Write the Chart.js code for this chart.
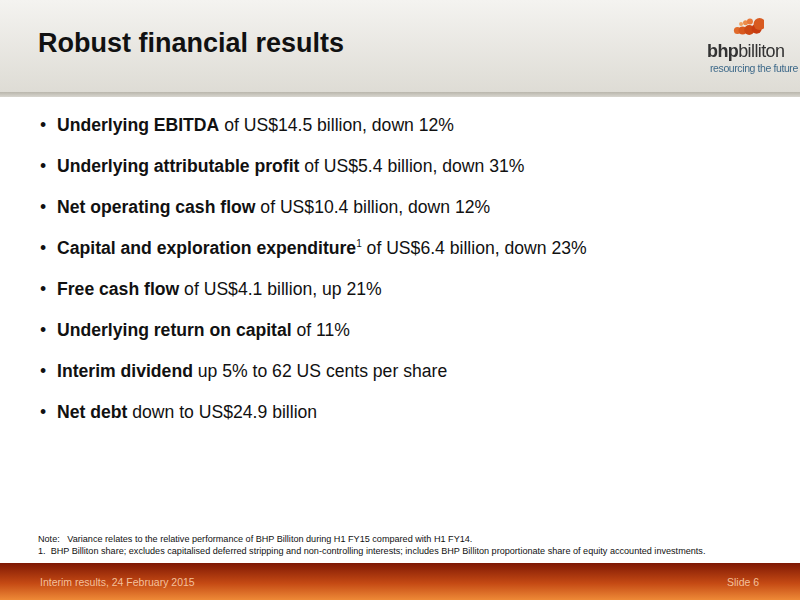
<!DOCTYPE html>
<html><head><meta charset="utf-8">
<script src="https://cdn.jsdelivr.net/npm/chart.js@4"></script>
<style>
body{margin:0;width:800px;height:600px;position:relative;overflow:hidden;background:#fff;font-family:"Liberation Sans",Arial,sans-serif}
#hdr{position:absolute;left:0;top:0;width:800px;height:92px;background:linear-gradient(#f4f3f0,#dedcd5)}
#hdrline{position:absolute;left:0;top:92px;width:800px;height:5px;background:linear-gradient(#b9b6ac,#d8d6cf)}
#title{position:absolute;left:38px;top:28px;font-size:27px;font-weight:bold;color:#111}
#logo{position:absolute;left:707px;top:41px;font-size:18px;color:#333;letter-spacing:-0.6px;white-space:nowrap}
#tag{position:absolute;left:710px;top:62px;font-size:10.5px;color:#3f6a8a;letter-spacing:-0.4px;white-space:nowrap}
#ul{position:absolute;left:40px;top:115px;margin:0;padding:0;list-style:none}
#ul li{height:41px;font-size:17.6px;color:#111;white-space:nowrap}
#ul li:before{content:"•";display:inline-block;width:17px}
#notes{position:absolute;left:38px;top:533px;font-size:9.1px;color:#111;line-height:12px;white-space:nowrap}
#foot{position:absolute;left:0;top:563px;width:800px;height:37px;background:linear-gradient(#7e1804,#c54a14 55%,#ee8a37)}
.ft{position:absolute;top:576px;font-size:10.5px;color:#f3c19c}
canvas{position:absolute;left:724px;top:12px}
</style></head><body>
<div id="hdr"></div><div id="hdrline"></div>
<div id="title">Robust financial results</div>
<canvas id="c" width="46" height="30" style="width:46px;height:30px"></canvas>
<div id="logo"><b>bhp</b>billiton</div>
<div id="tag">resourcing the future</div>
<ul id="ul"></ul>
<div id="notes">Note:&nbsp;&nbsp; Variance relates to the relative performance of BHP Billiton during H1 FY15 compared with H1 FY14.<br>1.&nbsp; BHP Billiton share; excludes capitalised deferred stripping and non-controlling interests; includes BHP Billiton proportionate share of equity accounted investments.</div>
<div id="foot"></div>
<div class="ft" style="left:40px">Interim results, 24 February 2015</div>
<div class="ft" style="left:727px">Slide 6</div>
<script>
const boldParts = ['Underlying EBITDA', 'Underlying attributable profit', 'Net operating cash flow',
  'Capital and exploration expenditure', 'Free cash flow', 'Underlying return on capital',
  'Interim dividend', 'Net debt'];
const restParts = [' of US$14.5 billion, down 12%', ' of US$5.4 billion, down 31%', ' of US$10.4 billion, down 12%',
  ' of US$6.4 billion, down 23%', ' of US$4.1 billion, up 21%', ' of 11%',
  ' up 5% to 62 US cents per share', ' down to US$24.9 billion'];
const supParts = ['', '', '', '1', '', '', '', ''];

const ul = document.getElementById('ul');
boldParts.forEach((b, i) => {
    const li = document.createElement('li');
    li.innerHTML = '<b>' + b + '</b>' + (supParts[i] ? '<sup style="font-size:10px">' + supParts[i] + '</sup>' : '') + restParts[i];
    ul.appendChild(li);
});

// logo mark drawn as a small bubble chart
const logoX = [15, 21, 27, 10, 17, 26, 36, 40];
const logoY = [20, 22, 24, 9, 9, 10, 12, 20];
const logoR = [2, 2.5, 3, 3.5, 4, 5, 5, 6];
new Chart(document.getElementById('c'), {
    type: 'bubble',
    data: { datasets: [{
        data: logoX.map((x, i) => ({ x, y: logoY[i], r: logoR[i] })),
        backgroundColor: ['#f0a060', '#ec8a48', '#e8783a', '#e06a2a', '#d8581e', '#cc4814', '#c83c10', '#d85a20'],
        borderWidth: 0
    }] },
    options: {
        responsive: false, animation: false,
        layout: { padding: 0 },
        scales: { x: { display: false, min: 0, max: 46 }, y: { display: false, min: 0, max: 30 } },
        plugins: { legend: { display: false }, tooltip: { enabled: false } }
    }
});
</script>
</body></html>
